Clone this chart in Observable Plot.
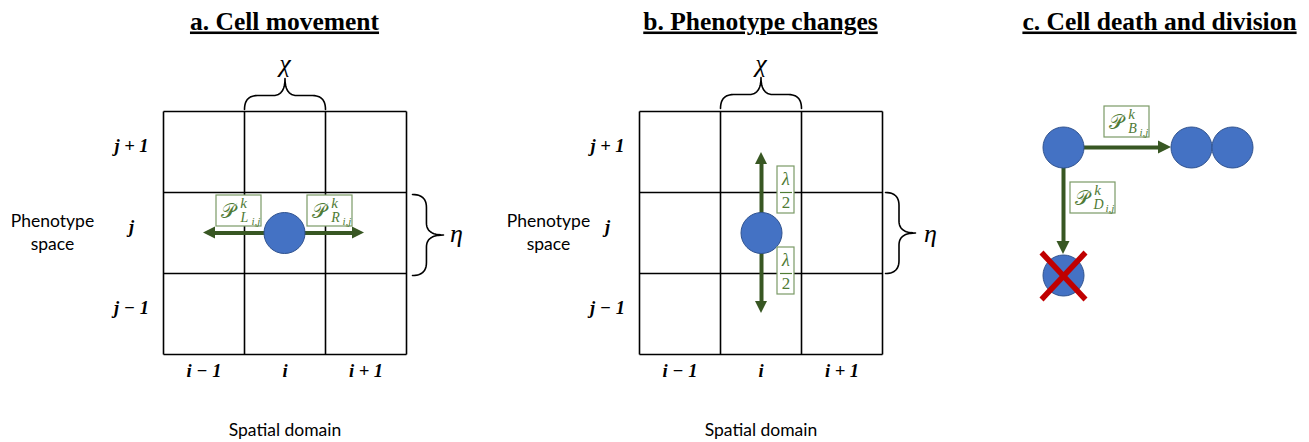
<!DOCTYPE html>
<html><head><meta charset="utf-8">
<script src="https://cdn.jsdelivr.net/npm/d3@7"></script>
<script src="https://cdn.jsdelivr.net/npm/@observablehq/plot@0.6"></script>
<style>body{margin:0;background:#fff}</style>
</head><body><div id="chart"></div>
<script>
// ---- content (data) ----
const titles = ["a. Cell movement", "b. Phenotype changes", "c. Cell death and division"];
const rowLabels = ["j + 1", "j", "j \u2212 1"];
const colLabels = ["i \u2212 1", "i", "i + 1"];
const xAxisTitle = "Spatial domain";
const yAxisTitle = ["Phenotype", "space"];
const cellWidthSymbol = "\u03c7";   // χ
const cellHeightSymbol = "\u03b7";  // η
const probSymbol = "\ud835\udcab";  // 𝒫
const probSuper = "k";
const probSubs = ["L", "R", "B", "D"];
const probSubSub = "i,j";
const switchFraction = ["\u03bb", "2"]; // λ / 2

// ---- layout / style ----
const W = 1309, H = 442;
const green = "#385723", labelGreen = "#4f7b35", boxStroke = "#7b9a66";
const blue = "#4472c4", blueEdge = "#2f528f", red = "#c00000";
const gridLeft = [163, 639], gridTop = 111, cell = 81;
const titleX = [284, 760, 1159];
const yTitleX = [52, 548];
const serif = "Liberation Serif";
const mathSerif = "DejaVu Sans";
const sans = "Lato";

// grid lines
const gridLines = [];
gridLeft.forEach((gl) => {
  for (let k = 0; k <= 3; k++) {
    gridLines.push({x1: gl + k * cell, x2: gl + k * cell, y1: gridTop, y2: gridTop + 3 * cell});
    gridLines.push({x1: gl, x2: gl + 3 * cell, y1: gridTop + k * cell, y2: gridTop + k * cell});
  }
});

// braces
function quad(p0, c, p1, n = 12) {
  return d3.range(n + 1).map(i => {
    const t = i / n, a = (1 - t) * (1 - t), b = 2 * (1 - t) * t, d = t * t;
    return [a * p0[0] + b * c[0] + d * p1[0], a * p0[1] + b * c[1] + d * p1[1]];
  });
}
function brace(id, orient, a0, a1, base, depth) {
  const mid = (a0 + a1) / 2, flat = depth * 0.45, r = 13, r2 = 12;
  const uv = [
    ...quad([a0, 0], [a0, flat], [a0 + r, flat]),
    ...quad([mid - r2, flat], [mid, flat], [mid, depth]),
    ...quad([mid, depth], [mid, flat], [mid + r2, flat]),
    ...quad([a1 - r, flat], [a1, flat], [a1, 0])
  ];
  return uv.map(([u, v]) => orient === "h"
    ? {id, x: u, y: base - v}
    : {id, x: base + v, y: u});
}
const bracePts = [
  ...brace("ax", "h", gridLeft[0] + cell, gridLeft[0] + 2 * cell, gridTop - 2, 31),
  ...brace("bx", "h", gridLeft[1] + cell, gridLeft[1] + 2 * cell, gridTop - 3, 31),
  ...brace("ay", "v", gridTop + cell + 2, gridTop + 2 * cell + 2, 412, 31),
  ...brace("by", "v", gridTop + cell, gridTop + 2 * cell, 885, 30)
];

// arrows: tail -> tip
const arrows = [
  {x1: 284, y1: 232.5, x2: 203, y2: 232.5, hl: 12, hw: 6},
  {x1: 284, y1: 232.5, x2: 364, y2: 232.5, hl: 12, hw: 6},
  {x1: 761, y1: 232.5, x2: 761, y2: 152, hl: 12, hw: 6},
  {x1: 761, y1: 232.5, x2: 761, y2: 313, hl: 12, hw: 6},
  {x1: 1063, y1: 147, x2: 1171, y2: 147, hl: 13, hw: 6.5},
  {x1: 1063, y1: 147, x2: 1063, y2: 254, hl: 13, hw: 6.5}
];
const shafts = arrows.map(a => {
  const dx = Math.sign(a.x2 - a.x1), dy = Math.sign(a.y2 - a.y1);
  return {x1: a.x1, y1: a.y1, x2: a.x2 - dx * (a.hl - 1), y2: a.y2 - dy * (a.hl - 1)};
});
const headsH = [], headsV = [];
arrows.forEach((a, i) => {
  if (a.y1 === a.y2) {
    const d = Math.sign(a.x2 - a.x1);
    headsH.push({id: i, x: a.x2 - d * a.hl, y1: a.y2 - a.hw, y2: a.y2 + a.hw});
    headsH.push({id: i, x: a.x2, y1: a.y2, y2: a.y2});
  } else {
    const d = Math.sign(a.y2 - a.y1);
    headsV.push({id: i, y: a.y2 - d * a.hl, x1: a.x2 - a.hw, x2: a.x2 + a.hw});
    headsV.push({id: i, y: a.y2, x1: a.x2, x2: a.x2});
  }
});

// cells
const cells = [
  {x: 284, y: 232.5}, {x: 761, y: 232.5},
  {x: 1063, y: 147}, {x: 1191, y: 147}, {x: 1232, y: 147}, {x: 1063, y: 275}
];
const cross = [
  {x1: 1041, y1: 252, x2: 1085, y2: 299},
  {x1: 1085, y1: 252, x2: 1041, y2: 299}
];

// probability label boxes
const probBoxPos = [[216, 195], [307, 195], [1104, 106], [1070, 182]];
const probBoxes = probSubs.map((s, i) => ({sub: s, bx: probBoxPos[i][0], by: probBoxPos[i][1]}));
const fracBoxPos = [[777, 166], [777, 247]];
const fracBoxes = fracBoxPos.map(([bx, by]) => ({bx, by}));

// texts
const titleData = titles.map((t, i) => ({t, x: titleX[i], y: 29}));
const rowData = [], colData = [], yTitleData = [], xTitleData = [], symData = [];
gridLeft.forEach((gl, p) => {
  rowLabels.forEach((t, r) => rowData.push({t, x: gl - 32, y: gridTop + (r + 0.5) * cell - 6}));
  colLabels.forEach((t, c) => colData.push({t, x: gl + (c + 0.5) * cell, y: 371}));
  yAxisTitle.forEach((t, l) => yTitleData.push({t, x: yTitleX[p], y: 221 + l * 23}));
  xTitleData.push({t: xAxisTitle, x: gl + 1.5 * cell, y: 430});
  symData.push({t: cellWidthSymbol, x: gl + 1.5 * cell, y: 63});
});
symData.push({t: cellHeightSymbol, x: 456, y: 233});
symData.push({t: cellHeightSymbol, x: 930, y: 233});

const chart = Plot.plot({
  width: W, height: H,
  margin: 0,
  x: {type: "identity", axis: null},
  y: {type: "identity", axis: null},
  style: {background: "#fff"},
  marks: [
    Plot.link(gridLines, {x1: "x1", y1: "y1", x2: "x2", y2: "y2", stroke: "#000", strokeWidth: 1.6}),
    Plot.line(bracePts, {x: "x", y: "y", z: "id", stroke: "#000", strokeWidth: 1.6, fill: "none"}),
    Plot.link(shafts, {x1: "x1", y1: "y1", x2: "x2", y2: "y2", stroke: green, strokeWidth: 4}),
    Plot.areaY(headsH, {x: "x", y1: "y1", y2: "y2", z: "id", fill: green}),
    Plot.areaX(headsV, {y: "y", x1: "x1", x2: "x2", z: "id", fill: green}),
    Plot.dot(cells, {x: "x", y: "y", r: 20.5, fill: blue, stroke: blueEdge, strokeWidth: 1}),
    Plot.link(cross, {x1: "x1", y1: "y1", x2: "x2", y2: "y2", stroke: red, strokeWidth: 5.5}),
    // prob boxes
    Plot.rect(probBoxes, {x1: "bx", y1: "by", x2: d => d.bx + 45, y2: d => d.by + 31, fill: "#fff", stroke: boxStroke, strokeWidth: 1.2}),
    Plot.text(probBoxes, {x: d => d.bx + 11, y: d => d.by + 16, text: () => probSymbol, fill: labelGreen, fontSize: 20, fontFamily: mathSerif}),
    Plot.text(probBoxes, {x: d => d.bx + 27, y: d => d.by + 8, text: () => probSuper, fill: labelGreen, fontSize: 15, fontStyle: "italic", fontFamily: serif}),
    Plot.text(probBoxes, {x: d => d.bx + 28, y: d => d.by + 22.5, text: "sub", fill: labelGreen, fontSize: 14, fontStyle: "italic", fontFamily: serif}),
    Plot.text(probBoxes, {x: d => d.bx + 39.5, y: d => d.by + 26, text: () => probSubSub, fill: labelGreen, fontSize: 11, fontStyle: "italic", fontFamily: serif}),
    // fraction boxes
    Plot.rect(fracBoxes, {x1: "bx", y1: "by", x2: d => d.bx + 17, y2: d => d.by + 47, fill: "#fff", stroke: boxStroke, strokeWidth: 1.2}),
    Plot.text(fracBoxes, {x: d => d.bx + 8.5, y: d => d.by + 13, text: () => switchFraction[0], fill: labelGreen, fontSize: 18, fontStyle: "italic", fontFamily: serif}),
    Plot.link(fracBoxes, {x1: d => d.bx + 2.5, x2: d => d.bx + 14.5, y1: d => d.by + 26, y2: d => d.by + 26, stroke: labelGreen, strokeWidth: 1.2}),
    Plot.text(fracBoxes, {x: d => d.bx + 8.5, y: d => d.by + 36, text: () => switchFraction[1], fill: labelGreen, fontSize: 17, fontFamily: serif}),
    // text
    Plot.text(titleData, {x: "x", y: "y", text: "t", lineAnchor: "bottom", fontSize: 25.5, fontWeight: "bold", fontFamily: serif, fill: "#000"}),
    Plot.text(rowData, {x: "x", y: "y", text: "t", fontSize: 18.5, fontWeight: "bold", fontStyle: "italic", fontFamily: serif, fill: "#000"}),
    Plot.text(colData, {x: "x", y: "y", text: "t", fontSize: 18.5, fontWeight: "bold", fontStyle: "italic", fontFamily: serif, fill: "#000"}),
    Plot.text(yTitleData, {x: "x", y: "y", text: "t", fontSize: 17.5, fontFamily: sans, fill: "#000"}),
    Plot.text(xTitleData, {x: "x", y: "y", text: "t", fontSize: 17.5, fontFamily: sans, fill: "#000"}),
    Plot.text(symData, {x: "x", y: "y", text: "t", fontSize: 26, fontStyle: "italic", fontFamily: serif, fill: "#000"})
  ]
});
d3.select(chart).selectAll("text").filter(function() { return titles.includes(this.textContent); })
  .attr("text-decoration", "underline");
document.getElementById("chart").appendChild(chart);
</script>
</body></html>
